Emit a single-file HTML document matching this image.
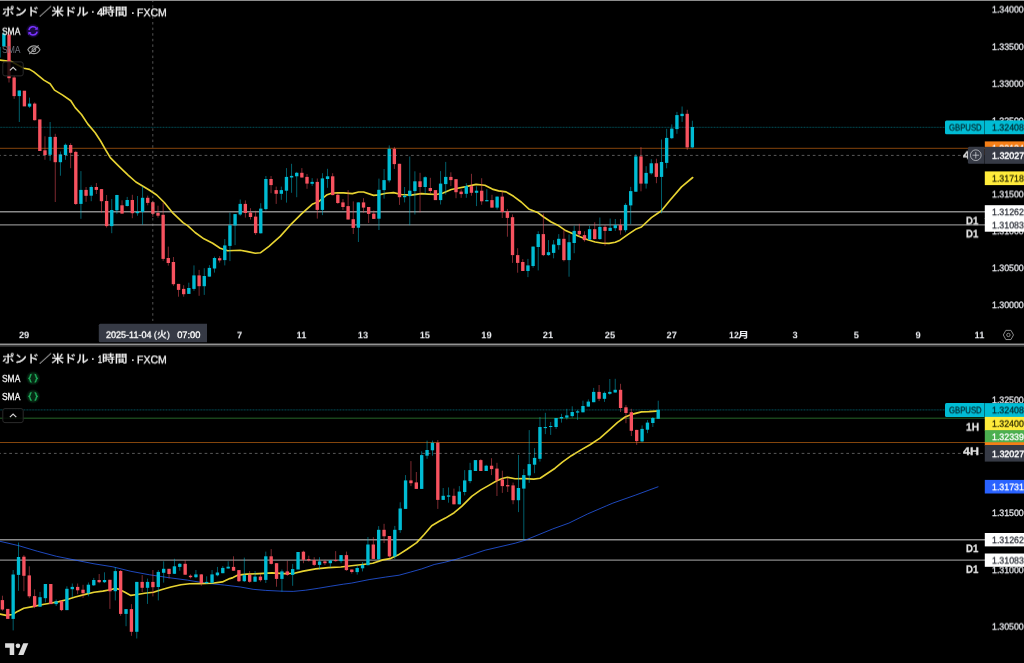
<!DOCTYPE html>
<html lang="ja"><head><meta charset="utf-8"><title>GBPUSD chart</title>
<style>
html,body{margin:0;padding:0;background:#000;}
body{width:1024px;height:663px;overflow:hidden;position:relative;font-family:"Liberation Sans","Noto Sans CJK JP",sans-serif;}
.g{position:absolute;left:0;top:0;}
.w{position:absolute;left:0;top:0;}
.t{position:absolute;white-space:pre;transform-origin:0 50%;display:block;text-rendering:geometricPrecision;}
.b{position:absolute;}
.ic{position:absolute;}
.btn{position:absolute;width:21.4px;height:15px;box-sizing:border-box;border:1px solid #2e2e2e;border-radius:2.5px;background:rgba(0,0,0,0.82);}
.btn svg{position:absolute;left:-1px;top:-1px;}
</style></head>
<body>
<svg width="0" height="0" style="position:absolute"><defs><filter id="d1" x="-5%" y="-20%" width="110%" height="140%" color-interpolation-filters="sRGB"><feOffset dy="1" result="o"/><feComposite in="SourceGraphic" in2="o" operator="arithmetic" k1="0" k2="0.9" k3="0.1" k4="0"/></filter><filter id="d2" x="-5%" y="-20%" width="110%" height="140%" color-interpolation-filters="sRGB"><feOffset dy="1" result="o"/><feComposite in="SourceGraphic" in2="o" operator="arithmetic" k1="0" k2="0.8" k3="0.2" k4="0"/></filter><filter id="d3" x="-5%" y="-20%" width="110%" height="140%" color-interpolation-filters="sRGB"><feOffset dy="1" result="o"/><feComposite in="SourceGraphic" in2="o" operator="arithmetic" k1="0" k2="0.7" k3="0.3" k4="0"/></filter><filter id="d4" x="-5%" y="-20%" width="110%" height="140%" color-interpolation-filters="sRGB"><feOffset dy="1" result="o"/><feComposite in="SourceGraphic" in2="o" operator="arithmetic" k1="0" k2="0.6" k3="0.4" k4="0"/></filter><filter id="u1" x="-5%" y="-20%" width="110%" height="140%" color-interpolation-filters="sRGB"><feOffset dy="-1" result="o"/><feComposite in="SourceGraphic" in2="o" operator="arithmetic" k1="0" k2="0.9" k3="0.1" k4="0"/></filter><filter id="u2" x="-5%" y="-20%" width="110%" height="140%" color-interpolation-filters="sRGB"><feOffset dy="-1" result="o"/><feComposite in="SourceGraphic" in2="o" operator="arithmetic" k1="0" k2="0.8" k3="0.2" k4="0"/></filter><filter id="u3" x="-5%" y="-20%" width="110%" height="140%" color-interpolation-filters="sRGB"><feOffset dy="-1" result="o"/><feComposite in="SourceGraphic" in2="o" operator="arithmetic" k1="0" k2="0.7" k3="0.3" k4="0"/></filter><filter id="u4" x="-5%" y="-20%" width="110%" height="140%" color-interpolation-filters="sRGB"><feOffset dy="-1" result="o"/><feComposite in="SourceGraphic" in2="o" operator="arithmetic" k1="0" k2="0.6" k3="0.4" k4="0"/></filter><filter id="u5" x="-5%" y="-20%" width="110%" height="140%" color-interpolation-filters="sRGB"><feOffset dy="-1" result="o"/><feComposite in="SourceGraphic" in2="o" operator="arithmetic" k1="0" k2="0.5" k3="0.5" k4="0"/></filter></defs></svg>
<svg class="g" width="1024" height="663" viewBox="0 0 1024 663"><g><line x1="0" y1="127.3" x2="945" y2="127.3" stroke="#00bcd4" stroke-width="0.9" opacity="0.2"/><line x1="0.6" y1="127.3" x2="945" y2="127.3" stroke="#00bcd4" stroke-width="0.9" stroke-dasharray="1.1 1.8" stroke-dashoffset="0" opacity="0.3"/><line x1="0" y1="148.3" x2="985" y2="148.3" stroke="#f57f17" stroke-width="0.95" opacity="0.57"/><line x1="0" y1="211.7" x2="985" y2="211.7" stroke="#8a8a8a" stroke-width="1.4" opacity="1"/><line x1="0" y1="224.9" x2="985" y2="224.9" stroke="#8a8a8a" stroke-width="1.4" opacity="1"/><polyline points="0.0,60.1 11.3,61.5 23.8,68.2 29.6,69.4 33.8,71.9 43.9,80.1 50.1,83.8 54.5,90.1 62.7,95.1 70.8,100.7 75.2,107.6 81.5,114.5 87.7,123.9 95.2,132.7 100.6,141.0 106.5,151.3 110.3,157.6 119.0,166.3 128.1,175.1 135.9,182.0 149.2,190.0 156.7,195.0 164.3,202.5 173.0,213.2 183.0,222.6 187.6,225.6 195.1,232.5 203.9,238.8 212.7,243.2 220.2,248.2 227.7,250.7 240.2,250.3 247.7,251.6 255.3,253.2 260.3,252.8 269.0,246.3 272.6,243.1 280.2,236.4 290.2,225.2 301.5,213.9 312.7,203.9 319.0,201.4 326.5,195.1 331.5,193.2 337.8,192.8 343.5,192.9 352.3,193.6 358.6,192.0 363.6,192.0 373.6,195.4 378.6,194.9 386.1,193.2 393.6,192.6 401.2,194.5 411.2,195.1 421.2,193.6 428.7,194.1 436.3,194.5 442.5,193.2 451.3,189.5 457.6,188.2 466.0,186.6 476.0,184.4 484.8,185.3 492.3,189.1 498.6,190.9 506.1,191.9 513.6,196.3 521.2,202.0 528.7,208.9 537.5,212.4 543.7,217.0 551.2,222.0 558.8,225.8 565.0,230.2 571.3,233.0 578.8,236.2 587.7,239.8 595.2,242.0 602.8,243.2 609.0,243.4 615.3,242.2 620.0,240.2 628.8,233.9 636.3,228.9 641.4,227.0 651.4,217.6 661.4,210.8 670.2,200.1 681.5,186.9 692.7,177.5" fill="none" stroke="#f5e035" stroke-width="1.65" stroke-linejoin="round" stroke-linecap="round" opacity="0.94"/><rect x="-1.73" y="45.0" width="0.9" height="13.0" fill="#00bcd4" opacity="0.56"/>
<rect x="-2.95" y="47.0" width="3.35" height="10.6" fill="#00bcd4"/>
<rect x="3.41" y="30.0" width="0.9" height="17.0" fill="#00bcd4" opacity="0.56"/>
<rect x="2.19" y="33.8" width="3.35" height="12.6" fill="#00bcd4"/>
<rect x="8.55" y="33.0" width="0.9" height="49.5" fill="#f7525f" opacity="0.56"/>
<rect x="7.33" y="34.5" width="3.35" height="43.7" fill="#f7525f"/>
<rect x="13.69" y="75.0" width="0.9" height="23.8" fill="#f7525f" opacity="0.56"/>
<rect x="12.46" y="77.5" width="3.35" height="18.6" fill="#f7525f"/>
<rect x="18.83" y="90.5" width="0.9" height="31.5" fill="#00bcd4" opacity="0.56"/>
<rect x="17.60" y="90.5" width="3.35" height="5.6" fill="#00bcd4"/>
<rect x="22.74" y="90.7" width="3.35" height="15.7" fill="#f7525f"/>
<rect x="29.10" y="97.6" width="0.9" height="10.3" fill="#00bcd4" opacity="0.56"/>
<rect x="27.88" y="103.6" width="3.35" height="3.0" fill="#00bcd4"/>
<rect x="34.24" y="102.4" width="0.9" height="18.1" fill="#f7525f" opacity="0.56"/>
<rect x="33.02" y="103.6" width="3.35" height="16.6" fill="#f7525f"/>
<rect x="38.15" y="119.4" width="3.35" height="31.6" fill="#f7525f"/>
<rect x="44.52" y="136.3" width="0.9" height="23.5" fill="#f7525f" opacity="0.56"/>
<rect x="43.29" y="150.3" width="3.35" height="4.7" fill="#f7525f"/>
<rect x="49.65" y="122.0" width="0.9" height="38.7" fill="#00bcd4" opacity="0.56"/>
<rect x="48.43" y="136.9" width="3.35" height="17.9" fill="#00bcd4"/>
<rect x="54.79" y="133.8" width="0.9" height="68.2" fill="#f7525f" opacity="0.56"/>
<rect x="53.57" y="136.9" width="3.35" height="25.3" fill="#f7525f"/>
<rect x="59.93" y="151.5" width="0.9" height="24.2" fill="#00bcd4" opacity="0.56"/>
<rect x="58.70" y="154.4" width="3.35" height="7.8" fill="#00bcd4"/>
<rect x="65.07" y="143.5" width="0.9" height="16.3" fill="#00bcd4" opacity="0.56"/>
<rect x="63.84" y="144.8" width="3.35" height="10.2" fill="#00bcd4"/>
<rect x="70.21" y="143.2" width="0.9" height="25.0" fill="#f7525f" opacity="0.56"/>
<rect x="68.98" y="145.0" width="3.35" height="7.8" fill="#f7525f"/>
<rect x="75.34" y="150.7" width="0.9" height="54.3" fill="#f7525f" opacity="0.56"/>
<rect x="74.12" y="151.9" width="3.35" height="52.1" fill="#f7525f"/>
<rect x="80.48" y="171.1" width="0.9" height="47.7" fill="#00bcd4" opacity="0.56"/>
<rect x="79.26" y="189.9" width="3.35" height="14.0" fill="#00bcd4"/>
<rect x="85.62" y="187.0" width="0.9" height="14.8" fill="#f7525f" opacity="0.56"/>
<rect x="84.39" y="189.9" width="3.35" height="5.9" fill="#f7525f"/>
<rect x="90.76" y="185.4" width="0.9" height="15.8" fill="#00bcd4" opacity="0.56"/>
<rect x="89.53" y="187.0" width="3.35" height="8.7" fill="#00bcd4"/>
<rect x="95.90" y="183.0" width="0.9" height="11.0" fill="#f7525f" opacity="0.56"/>
<rect x="94.67" y="187.0" width="3.35" height="2.9" fill="#f7525f"/>
<rect x="101.03" y="189.0" width="0.9" height="23.6" fill="#f7525f" opacity="0.56"/>
<rect x="99.81" y="189.1" width="3.35" height="12.1" fill="#f7525f"/>
<rect x="106.17" y="195.0" width="0.9" height="32.6" fill="#f7525f" opacity="0.56"/>
<rect x="104.95" y="201.0" width="3.35" height="25.1" fill="#f7525f"/>
<rect x="111.31" y="199.0" width="0.9" height="34.2" fill="#00bcd4" opacity="0.56"/>
<rect x="110.08" y="210.0" width="3.35" height="16.1" fill="#00bcd4"/>
<rect x="116.45" y="194.8" width="0.9" height="19.0" fill="#00bcd4" opacity="0.56"/>
<rect x="115.22" y="195.0" width="3.35" height="15.3" fill="#00bcd4"/>
<rect x="121.59" y="200.3" width="0.9" height="13.3" fill="#f7525f" opacity="0.56"/>
<rect x="120.36" y="205.3" width="3.35" height="8.3" fill="#f7525f"/>
<rect x="126.72" y="196.9" width="0.9" height="9.6" fill="#00bcd4" opacity="0.56"/>
<rect x="125.50" y="200.0" width="3.35" height="6.0" fill="#00bcd4"/>
<rect x="131.86" y="194.8" width="0.9" height="23.4" fill="#f7525f" opacity="0.56"/>
<rect x="130.64" y="200.0" width="3.35" height="13.2" fill="#f7525f"/>
<rect x="137.00" y="196.0" width="0.9" height="19.7" fill="#00bcd4" opacity="0.56"/>
<rect x="135.77" y="211.6" width="3.35" height="1.6" fill="#00bcd4"/>
<rect x="142.14" y="186.4" width="0.9" height="38.4" fill="#00bcd4" opacity="0.56"/>
<rect x="140.91" y="197.8" width="3.35" height="14.1" fill="#00bcd4"/>
<rect x="147.28" y="195.6" width="0.9" height="9.7" fill="#f7525f" opacity="0.56"/>
<rect x="146.05" y="197.8" width="3.35" height="5.1" fill="#f7525f"/>
<rect x="152.41" y="200.7" width="0.9" height="16.3" fill="#f7525f" opacity="0.56"/>
<rect x="151.19" y="202.2" width="3.35" height="11.6" fill="#f7525f"/>
<rect x="157.55" y="205.7" width="0.9" height="11.9" fill="#f7525f" opacity="0.56"/>
<rect x="156.33" y="212.9" width="3.35" height="2.8" fill="#f7525f"/>
<rect x="162.69" y="202.5" width="0.9" height="58.3" fill="#f7525f" opacity="0.56"/>
<rect x="161.46" y="214.8" width="3.35" height="44.1" fill="#f7525f"/>
<rect x="167.83" y="246.6" width="0.9" height="19.0" fill="#f7525f" opacity="0.56"/>
<rect x="166.60" y="258.0" width="3.35" height="5.0" fill="#f7525f"/>
<rect x="172.97" y="257.0" width="0.9" height="28.8" fill="#f7525f" opacity="0.56"/>
<rect x="171.74" y="262.0" width="3.35" height="22.2" fill="#f7525f"/>
<rect x="178.10" y="283.9" width="0.9" height="12.8" fill="#f7525f" opacity="0.56"/>
<rect x="176.88" y="283.9" width="3.35" height="6.0" fill="#f7525f"/>
<rect x="183.24" y="285.2" width="0.9" height="11.5" fill="#f7525f" opacity="0.56"/>
<rect x="182.02" y="288.9" width="3.35" height="5.3" fill="#f7525f"/>
<rect x="188.38" y="282.7" width="0.9" height="11.3" fill="#00bcd4" opacity="0.56"/>
<rect x="187.15" y="288.0" width="3.35" height="5.9" fill="#00bcd4"/>
<rect x="193.52" y="265.4" width="0.9" height="25.4" fill="#00bcd4" opacity="0.56"/>
<rect x="192.29" y="275.4" width="3.35" height="13.5" fill="#00bcd4"/>
<rect x="198.66" y="269.9" width="0.9" height="25.9" fill="#f7525f" opacity="0.56"/>
<rect x="197.43" y="275.4" width="3.35" height="10.8" fill="#f7525f"/>
<rect x="203.79" y="268.2" width="0.9" height="26.7" fill="#00bcd4" opacity="0.56"/>
<rect x="202.57" y="276.0" width="3.35" height="10.2" fill="#00bcd4"/>
<rect x="208.93" y="265.1" width="0.9" height="11.5" fill="#00bcd4" opacity="0.56"/>
<rect x="207.71" y="267.9" width="3.35" height="8.7" fill="#00bcd4"/>
<rect x="214.07" y="256.6" width="0.9" height="16.0" fill="#00bcd4" opacity="0.56"/>
<rect x="212.84" y="258.0" width="3.35" height="10.5" fill="#00bcd4"/>
<rect x="219.21" y="256.1" width="0.9" height="6.5" fill="#f7525f" opacity="0.56"/>
<rect x="217.98" y="258.2" width="3.35" height="2.2" fill="#f7525f"/>
<rect x="224.35" y="239.0" width="0.9" height="26.4" fill="#00bcd4" opacity="0.56"/>
<rect x="223.12" y="245.4" width="3.35" height="14.7" fill="#00bcd4"/>
<rect x="229.48" y="212.6" width="0.9" height="48.5" fill="#00bcd4" opacity="0.56"/>
<rect x="228.26" y="225.2" width="3.35" height="20.7" fill="#00bcd4"/>
<rect x="234.62" y="214.0" width="0.9" height="31.1" fill="#00bcd4" opacity="0.56"/>
<rect x="233.40" y="214.1" width="3.35" height="11.3" fill="#00bcd4"/>
<rect x="239.76" y="199.5" width="0.9" height="16.3" fill="#00bcd4" opacity="0.56"/>
<rect x="238.53" y="203.9" width="3.35" height="10.6" fill="#00bcd4"/>
<rect x="244.90" y="200.4" width="0.9" height="17.2" fill="#f7525f" opacity="0.56"/>
<rect x="243.67" y="203.9" width="3.35" height="9.1" fill="#f7525f"/>
<rect x="250.04" y="208.2" width="0.9" height="11.3" fill="#f7525f" opacity="0.56"/>
<rect x="248.81" y="212.6" width="3.35" height="4.4" fill="#f7525f"/>
<rect x="255.17" y="210.8" width="0.9" height="24.1" fill="#f7525f" opacity="0.56"/>
<rect x="253.95" y="216.6" width="3.35" height="16.5" fill="#f7525f"/>
<rect x="260.31" y="203.2" width="0.9" height="30.3" fill="#00bcd4" opacity="0.56"/>
<rect x="259.09" y="208.6" width="3.35" height="24.7" fill="#00bcd4"/>
<rect x="265.45" y="176.0" width="0.9" height="34.4" fill="#00bcd4" opacity="0.56"/>
<rect x="264.22" y="179.0" width="3.35" height="30.1" fill="#00bcd4"/>
<rect x="270.59" y="176.0" width="0.9" height="17.2" fill="#f7525f" opacity="0.56"/>
<rect x="269.36" y="179.0" width="3.35" height="6.1" fill="#f7525f"/>
<rect x="275.73" y="186.6" width="0.9" height="17.3" fill="#f7525f" opacity="0.56"/>
<rect x="274.50" y="190.1" width="3.35" height="3.7" fill="#f7525f"/>
<rect x="280.86" y="186.6" width="0.9" height="13.2" fill="#00bcd4" opacity="0.56"/>
<rect x="279.64" y="190.1" width="3.35" height="3.7" fill="#00bcd4"/>
<rect x="286.00" y="168.1" width="0.9" height="34.5" fill="#00bcd4" opacity="0.56"/>
<rect x="284.78" y="176.9" width="3.35" height="13.8" fill="#00bcd4"/>
<rect x="291.14" y="163.8" width="0.9" height="29.0" fill="#00bcd4" opacity="0.56"/>
<rect x="289.91" y="175.9" width="3.35" height="1.6" fill="#00bcd4"/>
<rect x="296.28" y="171.9" width="0.9" height="25.3" fill="#00bcd4" opacity="0.56"/>
<rect x="295.05" y="172.8" width="3.35" height="3.5" fill="#00bcd4"/>
<rect x="301.42" y="168.1" width="0.9" height="9.4" fill="#f7525f" opacity="0.56"/>
<rect x="300.19" y="172.8" width="3.35" height="4.7" fill="#f7525f"/>
<rect x="306.55" y="174.0" width="0.9" height="14.8" fill="#f7525f" opacity="0.56"/>
<rect x="305.33" y="176.9" width="3.35" height="6.7" fill="#f7525f"/>
<rect x="311.69" y="178.2" width="0.9" height="7.7" fill="#00bcd4" opacity="0.56"/>
<rect x="310.47" y="181.9" width="3.35" height="1.9" fill="#00bcd4"/>
<rect x="316.83" y="178.5" width="0.9" height="40.1" fill="#f7525f" opacity="0.56"/>
<rect x="315.60" y="181.9" width="3.35" height="28.0" fill="#f7525f"/>
<rect x="321.97" y="173.2" width="0.9" height="41.9" fill="#00bcd4" opacity="0.56"/>
<rect x="320.74" y="178.4" width="3.35" height="31.5" fill="#00bcd4"/>
<rect x="327.11" y="168.8" width="0.9" height="19.0" fill="#00bcd4" opacity="0.56"/>
<rect x="325.88" y="176.3" width="3.35" height="2.7" fill="#00bcd4"/>
<rect x="332.24" y="173.2" width="0.9" height="22.1" fill="#f7525f" opacity="0.56"/>
<rect x="331.02" y="176.3" width="3.35" height="18.8" fill="#f7525f"/>
<rect x="337.38" y="192.8" width="0.9" height="11.1" fill="#f7525f" opacity="0.56"/>
<rect x="336.16" y="194.8" width="3.35" height="8.2" fill="#f7525f"/>
<rect x="342.52" y="199.1" width="0.9" height="10.8" fill="#f7525f" opacity="0.56"/>
<rect x="341.29" y="202.4" width="3.35" height="4.6" fill="#f7525f"/>
<rect x="347.66" y="190.1" width="0.9" height="29.5" fill="#f7525f" opacity="0.56"/>
<rect x="346.43" y="206.1" width="3.35" height="13.4" fill="#f7525f"/>
<rect x="352.80" y="201.4" width="0.9" height="32.6" fill="#f7525f" opacity="0.56"/>
<rect x="351.57" y="219.2" width="3.35" height="8.7" fill="#f7525f"/>
<rect x="357.93" y="202.3" width="0.9" height="39.7" fill="#00bcd4" opacity="0.56"/>
<rect x="356.71" y="202.4" width="3.35" height="25.3" fill="#00bcd4"/>
<rect x="363.07" y="198.2" width="0.9" height="14.5" fill="#f7525f" opacity="0.56"/>
<rect x="361.85" y="202.4" width="3.35" height="5.2" fill="#f7525f"/>
<rect x="368.21" y="207.0" width="0.9" height="15.9" fill="#f7525f" opacity="0.56"/>
<rect x="366.98" y="207.0" width="3.35" height="6.9" fill="#f7525f"/>
<rect x="373.35" y="210.4" width="0.9" height="8.6" fill="#f7525f" opacity="0.56"/>
<rect x="372.12" y="213.7" width="3.35" height="5.2" fill="#f7525f"/>
<rect x="378.49" y="178.6" width="0.9" height="51.4" fill="#00bcd4" opacity="0.56"/>
<rect x="377.26" y="189.8" width="3.35" height="28.9" fill="#00bcd4"/>
<rect x="383.62" y="169.0" width="0.9" height="29.6" fill="#00bcd4" opacity="0.56"/>
<rect x="382.40" y="180.1" width="3.35" height="10.0" fill="#00bcd4"/>
<rect x="388.76" y="145.4" width="0.9" height="37.0" fill="#00bcd4" opacity="0.56"/>
<rect x="387.54" y="148.8" width="3.35" height="31.6" fill="#00bcd4"/>
<rect x="393.90" y="146.9" width="0.9" height="22.0" fill="#f7525f" opacity="0.56"/>
<rect x="392.67" y="148.8" width="3.35" height="15.3" fill="#f7525f"/>
<rect x="399.04" y="163.8" width="0.9" height="41.1" fill="#f7525f" opacity="0.56"/>
<rect x="397.81" y="163.8" width="3.35" height="33.4" fill="#f7525f"/>
<rect x="404.18" y="187.0" width="0.9" height="15.4" fill="#00bcd4" opacity="0.56"/>
<rect x="402.95" y="195.7" width="3.35" height="1.5" fill="#00bcd4"/>
<rect x="409.31" y="156.5" width="0.9" height="68.7" fill="#00bcd4" opacity="0.56"/>
<rect x="408.09" y="190.7" width="3.35" height="5.4" fill="#00bcd4"/>
<rect x="414.45" y="171.3" width="0.9" height="43.2" fill="#00bcd4" opacity="0.56"/>
<rect x="413.23" y="181.3" width="3.35" height="9.8" fill="#00bcd4"/>
<rect x="419.59" y="172.8" width="0.9" height="39.5" fill="#f7525f" opacity="0.56"/>
<rect x="418.36" y="181.3" width="3.35" height="5.7" fill="#f7525f"/>
<rect x="424.73" y="176.3" width="0.9" height="17.6" fill="#00bcd4" opacity="0.56"/>
<rect x="423.50" y="177.2" width="3.35" height="9.8" fill="#00bcd4"/>
<rect x="429.87" y="177.8" width="0.9" height="15.4" fill="#f7525f" opacity="0.56"/>
<rect x="428.64" y="188.0" width="3.35" height="3.0" fill="#f7525f"/>
<rect x="433.78" y="190.1" width="3.35" height="10.0" fill="#f7525f"/>
<rect x="440.14" y="171.1" width="0.9" height="33.4" fill="#00bcd4" opacity="0.56"/>
<rect x="438.92" y="183.6" width="3.35" height="16.5" fill="#00bcd4"/>
<rect x="445.28" y="161.9" width="0.9" height="32.6" fill="#00bcd4" opacity="0.56"/>
<rect x="444.06" y="176.9" width="3.35" height="7.2" fill="#00bcd4"/>
<rect x="450.42" y="172.3" width="0.9" height="13.8" fill="#f7525f" opacity="0.56"/>
<rect x="449.19" y="176.9" width="3.35" height="3.2" fill="#f7525f"/>
<rect x="455.56" y="179.0" width="0.9" height="19.2" fill="#f7525f" opacity="0.56"/>
<rect x="454.33" y="179.2" width="3.35" height="13.0" fill="#f7525f"/>
<rect x="460.69" y="189.4" width="0.9" height="8.4" fill="#f7525f" opacity="0.56"/>
<rect x="459.47" y="191.6" width="3.35" height="2.5" fill="#f7525f"/>
<rect x="465.83" y="183.2" width="0.9" height="14.6" fill="#00bcd4" opacity="0.56"/>
<rect x="464.61" y="186.1" width="3.35" height="7.7" fill="#00bcd4"/>
<rect x="470.97" y="173.8" width="0.9" height="21.9" fill="#f7525f" opacity="0.56"/>
<rect x="469.75" y="186.1" width="3.35" height="6.7" fill="#f7525f"/>
<rect x="476.11" y="186.3" width="0.9" height="19.8" fill="#00bcd4" opacity="0.56"/>
<rect x="474.88" y="190.7" width="3.35" height="2.1" fill="#00bcd4"/>
<rect x="481.25" y="178.2" width="0.9" height="26.6" fill="#f7525f" opacity="0.56"/>
<rect x="480.02" y="190.7" width="3.35" height="10.6" fill="#f7525f"/>
<rect x="486.38" y="189.1" width="0.9" height="12.2" fill="#00bcd4" opacity="0.56"/>
<rect x="485.16" y="200.1" width="3.35" height="1.2" fill="#00bcd4"/>
<rect x="491.52" y="194.8" width="0.9" height="13.0" fill="#f7525f" opacity="0.56"/>
<rect x="490.30" y="200.1" width="3.35" height="7.5" fill="#f7525f"/>
<rect x="496.66" y="196.5" width="0.9" height="13.0" fill="#00bcd4" opacity="0.56"/>
<rect x="495.44" y="196.6" width="3.35" height="11.0" fill="#00bcd4"/>
<rect x="501.80" y="190.7" width="0.9" height="27.3" fill="#f7525f" opacity="0.56"/>
<rect x="500.57" y="196.6" width="3.35" height="15.4" fill="#f7525f"/>
<rect x="506.94" y="208.9" width="0.9" height="27.8" fill="#f7525f" opacity="0.56"/>
<rect x="505.71" y="211.6" width="3.35" height="6.3" fill="#f7525f"/>
<rect x="512.07" y="214.4" width="0.9" height="48.5" fill="#f7525f" opacity="0.56"/>
<rect x="510.85" y="217.2" width="3.35" height="37.9" fill="#f7525f"/>
<rect x="517.21" y="248.2" width="0.9" height="24.5" fill="#f7525f" opacity="0.56"/>
<rect x="515.99" y="255.1" width="3.35" height="7.8" fill="#f7525f"/>
<rect x="522.35" y="259.1" width="0.9" height="11.9" fill="#f7525f" opacity="0.56"/>
<rect x="521.12" y="262.0" width="3.35" height="9.0" fill="#f7525f"/>
<rect x="527.49" y="258.9" width="0.9" height="18.2" fill="#00bcd4" opacity="0.56"/>
<rect x="526.26" y="265.4" width="3.35" height="5.6" fill="#00bcd4"/>
<rect x="532.63" y="246.5" width="0.9" height="21.2" fill="#00bcd4" opacity="0.56"/>
<rect x="531.40" y="246.6" width="3.35" height="19.4" fill="#00bcd4"/>
<rect x="537.76" y="231.3" width="0.9" height="39.1" fill="#00bcd4" opacity="0.56"/>
<rect x="536.54" y="234.1" width="3.35" height="12.9" fill="#00bcd4"/>
<rect x="542.90" y="213.5" width="0.9" height="42.6" fill="#f7525f" opacity="0.56"/>
<rect x="541.68" y="234.1" width="3.35" height="21.0" fill="#f7525f"/>
<rect x="548.04" y="240.1" width="0.9" height="15.7" fill="#00bcd4" opacity="0.56"/>
<rect x="546.82" y="252.2" width="3.35" height="2.9" fill="#00bcd4"/>
<rect x="553.18" y="240.1" width="0.9" height="18.2" fill="#00bcd4" opacity="0.56"/>
<rect x="551.95" y="244.5" width="3.35" height="8.4" fill="#00bcd4"/>
<rect x="558.32" y="234.1" width="0.9" height="15.6" fill="#00bcd4" opacity="0.56"/>
<rect x="557.09" y="238.8" width="3.35" height="6.3" fill="#00bcd4"/>
<rect x="563.45" y="229.4" width="0.9" height="32.0" fill="#f7525f" opacity="0.56"/>
<rect x="562.23" y="238.8" width="3.35" height="21.3" fill="#f7525f"/>
<rect x="568.59" y="234.4" width="0.9" height="42.3" fill="#00bcd4" opacity="0.56"/>
<rect x="567.37" y="242.2" width="3.35" height="17.9" fill="#00bcd4"/>
<rect x="573.73" y="225.7" width="0.9" height="27.5" fill="#00bcd4" opacity="0.56"/>
<rect x="572.50" y="230.9" width="3.35" height="12.1" fill="#00bcd4"/>
<rect x="578.87" y="223.8" width="0.9" height="13.2" fill="#f7525f" opacity="0.56"/>
<rect x="577.64" y="230.9" width="3.35" height="3.5" fill="#f7525f"/>
<rect x="584.01" y="231.3" width="0.9" height="10.3" fill="#f7525f" opacity="0.56"/>
<rect x="582.78" y="235.1" width="3.35" height="5.0" fill="#f7525f"/>
<rect x="589.14" y="225.7" width="0.9" height="14.3" fill="#00bcd4" opacity="0.56"/>
<rect x="587.92" y="229.2" width="3.35" height="10.5" fill="#00bcd4"/>
<rect x="594.28" y="222.2" width="0.9" height="17.1" fill="#f7525f" opacity="0.56"/>
<rect x="593.06" y="229.2" width="3.35" height="9.9" fill="#f7525f"/>
<rect x="599.42" y="217.5" width="0.9" height="22.3" fill="#00bcd4" opacity="0.56"/>
<rect x="598.20" y="226.9" width="3.35" height="12.2" fill="#00bcd4"/>
<rect x="604.56" y="225.1" width="0.9" height="20.6" fill="#f7525f" opacity="0.56"/>
<rect x="603.33" y="226.9" width="3.35" height="4.0" fill="#f7525f"/>
<rect x="609.70" y="218.5" width="0.9" height="12.5" fill="#00bcd4" opacity="0.56"/>
<rect x="608.47" y="227.8" width="3.35" height="3.1" fill="#00bcd4"/>
<rect x="614.83" y="219.0" width="0.9" height="11.9" fill="#00bcd4" opacity="0.56"/>
<rect x="613.61" y="225.1" width="3.35" height="3.1" fill="#00bcd4"/>
<rect x="619.97" y="219.0" width="0.9" height="15.7" fill="#f7525f" opacity="0.56"/>
<rect x="618.75" y="225.1" width="3.35" height="5.2" fill="#f7525f"/>
<rect x="625.11" y="203.2" width="0.9" height="29.1" fill="#00bcd4" opacity="0.56"/>
<rect x="623.88" y="204.9" width="3.35" height="25.3" fill="#00bcd4"/>
<rect x="630.25" y="186.9" width="0.9" height="37.3" fill="#00bcd4" opacity="0.56"/>
<rect x="629.02" y="191.1" width="3.35" height="14.3" fill="#00bcd4"/>
<rect x="635.39" y="154.1" width="0.9" height="37.7" fill="#00bcd4" opacity="0.56"/>
<rect x="634.16" y="156.4" width="3.35" height="35.3" fill="#00bcd4"/>
<rect x="640.52" y="147.0" width="0.9" height="44.3" fill="#f7525f" opacity="0.56"/>
<rect x="639.30" y="156.4" width="3.35" height="27.2" fill="#f7525f"/>
<rect x="645.66" y="166.2" width="0.9" height="22.4" fill="#00bcd4" opacity="0.56"/>
<rect x="644.44" y="172.9" width="3.35" height="10.7" fill="#00bcd4"/>
<rect x="650.80" y="159.2" width="0.9" height="15.4" fill="#00bcd4" opacity="0.56"/>
<rect x="649.58" y="163.3" width="3.35" height="10.0" fill="#00bcd4"/>
<rect x="655.94" y="158.7" width="0.9" height="24.5" fill="#f7525f" opacity="0.56"/>
<rect x="654.71" y="163.3" width="3.35" height="13.6" fill="#f7525f"/>
<rect x="661.08" y="139.5" width="0.9" height="73.8" fill="#00bcd4" opacity="0.56"/>
<rect x="659.85" y="162.0" width="3.35" height="14.9" fill="#00bcd4"/>
<rect x="666.21" y="128.8" width="0.9" height="39.5" fill="#00bcd4" opacity="0.56"/>
<rect x="664.99" y="137.9" width="3.35" height="25.0" fill="#00bcd4"/>
<rect x="671.35" y="124.4" width="0.9" height="14.7" fill="#00bcd4" opacity="0.56"/>
<rect x="670.13" y="128.6" width="3.35" height="9.6" fill="#00bcd4"/>
<rect x="676.49" y="111.9" width="0.9" height="21.9" fill="#00bcd4" opacity="0.56"/>
<rect x="675.26" y="115.1" width="3.35" height="14.0" fill="#00bcd4"/>
<rect x="681.63" y="106.5" width="0.9" height="15.4" fill="#00bcd4" opacity="0.56"/>
<rect x="680.40" y="113.8" width="3.35" height="2.3" fill="#00bcd4"/>
<rect x="686.77" y="109.8" width="0.9" height="40.1" fill="#f7525f" opacity="0.56"/>
<rect x="685.54" y="113.8" width="3.35" height="33.6" fill="#f7525f"/>
<rect x="691.90" y="120.7" width="0.9" height="27.6" fill="#00bcd4" opacity="0.56"/>
<rect x="690.68" y="127.0" width="3.35" height="20.4" fill="#00bcd4"/><line x1="-1.86" y1="155.4" x2="985" y2="155.4" stroke="#a0a0a0" stroke-width="0.85" stroke-dasharray="2.7 2.88" stroke-dashoffset="0" opacity="0.66"/><line x1="152.8" y1="-0.4" x2="152.8" y2="321" stroke="#a0a0a0" stroke-width="0.85" stroke-dasharray="2.5 3.1" opacity="0.62"/></g><rect x="0" y="0" width="1024" height="1" fill="#8c8c8c"/><rect x="0" y="343" width="1024" height="1" fill="#444"/><rect x="0" y="344" width="1024" height="1" fill="#949494"/><rect x="0" y="345" width="1024" height="1" fill="#3c3c3c"/><rect x="0" y="346" width="1024" height="1" fill="#2a2a2a"/><g><line x1="0" y1="409.9" x2="945" y2="409.9" stroke="#00bcd4" stroke-width="0.9" opacity="0.2"/><line x1="0.6" y1="409.9" x2="945" y2="409.9" stroke="#00bcd4" stroke-width="0.9" stroke-dasharray="1.1 1.8" stroke-dashoffset="0" opacity="0.3"/><line x1="0" y1="418.2" x2="985" y2="418.2" stroke="#2e7d32" stroke-width="1.5" opacity="0.55"/><line x1="0" y1="442.5" x2="985" y2="442.5" stroke="#f57f17" stroke-width="0.95" opacity="0.57"/><line x1="0" y1="539.8" x2="985" y2="539.8" stroke="#8a8a8a" stroke-width="1.4" opacity="1"/><line x1="0" y1="560.1" x2="985" y2="560.1" stroke="#8a8a8a" stroke-width="1.4" opacity="1"/><polyline points="0.0,541.3 18.8,545.7 37.6,551.3 56.4,556.3 75.2,560.1 94.0,563.8 112.8,566.8 130.8,571.3 149.6,574.8 168.4,577.6 187.2,580.1 206.0,583.2 224.8,585.1 240.5,587.0 253.1,589.3 265.6,590.4 281.9,591.2 293.2,591.4 305.7,590.2 318.2,588.3 330.8,586.2 343.3,584.2 351.5,583.1 369.1,579.6 385.4,577.1 399.1,575.2 410.4,572.1 421.7,568.9 434.2,564.5 444.2,562.4 456.8,559.1 472.0,554.5 485.1,550.2 515.2,543.2 525.2,540.2 552.8,528.9 568.9,523.1 587.7,513.9 606.5,505.8 612.9,503.1 635.5,495.1 658.0,486.8" fill="none" stroke="#2962ff" stroke-width="0.95" stroke-linejoin="round" stroke-linecap="round" opacity="0.78"/><polyline points="0.0,614.1 6.3,615.4 12.5,614.5 17.5,611.4 23.8,608.2 32.6,606.6 41.4,604.8 50.1,603.2 58.9,601.6 66.4,599.8 75.2,597.0 85.2,594.4 94.0,592.3 102.8,591.1 110.3,589.8 115.5,588.4 118.3,589.1 124.5,592.0 130.8,595.4 137.1,594.5 144.6,593.2 153.4,592.3 162.1,589.5 170.9,587.0 180.9,584.8 189.7,583.8 199.7,583.6 212.3,583.2 222.3,581.9 229.8,578.6 233.0,577.6 238.0,575.1 246.8,574.1 259.3,573.6 271.9,572.9 284.4,573.6 294.4,573.3 303.2,571.1 315.7,568.9 328.3,567.6 340.8,567.0 351.5,565.8 362.8,564.5 372.8,563.3 382.8,559.9 390.4,558.6 397.9,555.1 406.7,549.5 416.7,542.6 424.2,534.5 431.7,525.7 439.2,521.3 445.4,518.1 454.2,512.7 461.7,506.4 471.7,496.4 480.5,490.1 489.3,485.1 496.8,480.7 503.0,478.2 507.5,477.3 515.0,478.8 525.1,478.6 533.8,479.1 540.1,478.2 547.6,473.2 555.1,468.2 562.7,461.9 571.4,455.7 580.2,450.4 590.0,444.8 600.0,438.1 608.8,430.4 617.6,422.4 625.1,417.0 632.6,414.1 641.4,411.9 648.9,411.6 656.4,411.1" fill="none" stroke="#f5e035" stroke-width="1.65" stroke-linejoin="round" stroke-linecap="round" opacity="0.94"/><rect x="1.95" y="595.7" width="0.9" height="15.0" fill="#f7525f" opacity="0.56"/>
<rect x="0.72" y="600.1" width="3.35" height="9.4" fill="#f7525f"/>
<rect x="6.10" y="608.9" width="3.35" height="10.0" fill="#f7525f"/>
<rect x="12.70" y="570.0" width="0.9" height="60.4" fill="#00bcd4" opacity="0.56"/>
<rect x="11.48" y="574.5" width="3.35" height="44.4" fill="#00bcd4"/>
<rect x="18.08" y="542.5" width="0.9" height="48.3" fill="#00bcd4" opacity="0.56"/>
<rect x="16.85" y="557.0" width="3.35" height="17.9" fill="#00bcd4"/>
<rect x="23.45" y="555.1" width="0.9" height="36.1" fill="#f7525f" opacity="0.56"/>
<rect x="22.23" y="556.7" width="3.35" height="19.1" fill="#f7525f"/>
<rect x="28.83" y="566.3" width="0.9" height="31.9" fill="#f7525f" opacity="0.56"/>
<rect x="27.60" y="575.4" width="3.35" height="20.9" fill="#f7525f"/>
<rect x="34.20" y="589.4" width="0.9" height="18.8" fill="#f7525f" opacity="0.56"/>
<rect x="32.98" y="596.1" width="3.35" height="10.9" fill="#f7525f"/>
<rect x="39.58" y="591.9" width="0.9" height="14.9" fill="#00bcd4" opacity="0.56"/>
<rect x="38.35" y="597.2" width="3.35" height="9.5" fill="#00bcd4"/>
<rect x="44.95" y="584.0" width="0.9" height="18.3" fill="#00bcd4" opacity="0.56"/>
<rect x="43.73" y="584.0" width="3.35" height="14.2" fill="#00bcd4"/>
<rect x="49.10" y="584.0" width="3.35" height="20.1" fill="#f7525f"/>
<rect x="55.70" y="599.5" width="0.9" height="6.5" fill="#00bcd4" opacity="0.56"/>
<rect x="54.48" y="601.3" width="3.35" height="2.8" fill="#00bcd4"/>
<rect x="61.08" y="600.1" width="0.9" height="11.0" fill="#f7525f" opacity="0.56"/>
<rect x="59.86" y="601.3" width="3.35" height="8.8" fill="#f7525f"/>
<rect x="66.46" y="586.3" width="0.9" height="23.9" fill="#00bcd4" opacity="0.56"/>
<rect x="65.23" y="588.8" width="3.35" height="21.3" fill="#00bcd4"/>
<rect x="71.83" y="583.5" width="0.9" height="13.5" fill="#00bcd4" opacity="0.56"/>
<rect x="70.61" y="586.9" width="3.35" height="2.3" fill="#00bcd4"/>
<rect x="77.21" y="583.5" width="0.9" height="10.6" fill="#f7525f" opacity="0.56"/>
<rect x="75.98" y="586.9" width="3.35" height="3.4" fill="#f7525f"/>
<rect x="82.58" y="584.8" width="0.9" height="13.0" fill="#f7525f" opacity="0.56"/>
<rect x="81.36" y="589.7" width="3.35" height="3.5" fill="#f7525f"/>
<rect x="87.96" y="582.5" width="0.9" height="13.8" fill="#00bcd4" opacity="0.56"/>
<rect x="86.73" y="584.7" width="3.35" height="8.5" fill="#00bcd4"/>
<rect x="93.33" y="577.9" width="0.9" height="8.1" fill="#00bcd4" opacity="0.56"/>
<rect x="92.11" y="580.0" width="3.35" height="5.3" fill="#00bcd4"/>
<rect x="98.71" y="574.0" width="0.9" height="9.2" fill="#f7525f" opacity="0.56"/>
<rect x="97.48" y="580.0" width="3.35" height="2.2" fill="#f7525f"/>
<rect x="104.08" y="572.3" width="0.9" height="10.7" fill="#00bcd4" opacity="0.56"/>
<rect x="102.86" y="580.0" width="3.35" height="2.2" fill="#00bcd4"/>
<rect x="109.46" y="579.8" width="0.9" height="29.1" fill="#f7525f" opacity="0.56"/>
<rect x="108.23" y="579.8" width="3.35" height="11.5" fill="#f7525f"/>
<rect x="114.84" y="567.0" width="0.9" height="33.4" fill="#00bcd4" opacity="0.56"/>
<rect x="113.61" y="571.1" width="3.35" height="20.1" fill="#00bcd4"/>
<rect x="120.21" y="570.0" width="0.9" height="45.8" fill="#f7525f" opacity="0.56"/>
<rect x="118.99" y="571.0" width="3.35" height="42.9" fill="#f7525f"/>
<rect x="125.59" y="609.0" width="0.9" height="17.2" fill="#00bcd4" opacity="0.56"/>
<rect x="124.36" y="609.1" width="3.35" height="4.8" fill="#00bcd4"/>
<rect x="130.96" y="604.1" width="0.9" height="31.7" fill="#f7525f" opacity="0.56"/>
<rect x="129.74" y="609.1" width="3.35" height="22.7" fill="#f7525f"/>
<rect x="136.34" y="581.9" width="0.9" height="56.6" fill="#00bcd4" opacity="0.56"/>
<rect x="135.11" y="581.9" width="3.35" height="49.9" fill="#00bcd4"/>
<rect x="141.71" y="575.1" width="0.9" height="16.9" fill="#f7525f" opacity="0.56"/>
<rect x="140.49" y="581.9" width="3.35" height="5.9" fill="#f7525f"/>
<rect x="147.09" y="578.6" width="0.9" height="25.3" fill="#00bcd4" opacity="0.56"/>
<rect x="145.86" y="581.9" width="3.35" height="5.9" fill="#00bcd4"/>
<rect x="152.46" y="570.0" width="0.9" height="26.4" fill="#f7525f" opacity="0.56"/>
<rect x="151.24" y="581.9" width="3.35" height="5.3" fill="#f7525f"/>
<rect x="157.84" y="570.0" width="0.9" height="30.4" fill="#00bcd4" opacity="0.56"/>
<rect x="156.61" y="571.9" width="3.35" height="15.1" fill="#00bcd4"/>
<rect x="163.22" y="561.3" width="0.9" height="21.3" fill="#00bcd4" opacity="0.56"/>
<rect x="161.99" y="568.8" width="3.35" height="4.0" fill="#00bcd4"/>
<rect x="168.59" y="568.8" width="0.9" height="9.8" fill="#f7525f" opacity="0.56"/>
<rect x="167.37" y="568.8" width="3.35" height="5.2" fill="#f7525f"/>
<rect x="173.97" y="558.8" width="0.9" height="15.2" fill="#00bcd4" opacity="0.56"/>
<rect x="172.74" y="566.3" width="3.35" height="7.5" fill="#00bcd4"/>
<rect x="179.34" y="563.1" width="0.9" height="7.6" fill="#00bcd4" opacity="0.56"/>
<rect x="178.12" y="563.8" width="3.35" height="3.1" fill="#00bcd4"/>
<rect x="184.72" y="560.0" width="0.9" height="14.8" fill="#f7525f" opacity="0.56"/>
<rect x="183.49" y="563.8" width="3.35" height="10.9" fill="#f7525f"/>
<rect x="190.09" y="574.4" width="0.9" height="4.0" fill="#f7525f" opacity="0.56"/>
<rect x="188.87" y="575.7" width="3.35" height="1.5" fill="#f7525f"/>
<rect x="195.47" y="570.0" width="0.9" height="8.2" fill="#00bcd4" opacity="0.56"/>
<rect x="194.24" y="574.4" width="3.35" height="2.8" fill="#00bcd4"/>
<rect x="200.84" y="574.0" width="0.9" height="11.7" fill="#f7525f" opacity="0.56"/>
<rect x="199.62" y="574.4" width="3.35" height="8.8" fill="#f7525f"/>
<rect x="206.22" y="576.3" width="0.9" height="7.5" fill="#00bcd4" opacity="0.56"/>
<rect x="204.99" y="581.9" width="3.35" height="1.3" fill="#00bcd4"/>
<rect x="211.59" y="570.0" width="0.9" height="13.8" fill="#00bcd4" opacity="0.56"/>
<rect x="210.37" y="574.4" width="3.35" height="8.4" fill="#00bcd4"/>
<rect x="216.97" y="566.9" width="0.9" height="9.4" fill="#00bcd4" opacity="0.56"/>
<rect x="215.74" y="572.5" width="3.35" height="2.8" fill="#00bcd4"/>
<rect x="222.35" y="566.0" width="0.9" height="7.2" fill="#00bcd4" opacity="0.56"/>
<rect x="221.12" y="567.9" width="3.35" height="5.3" fill="#00bcd4"/>
<rect x="227.72" y="561.3" width="0.9" height="7.3" fill="#00bcd4" opacity="0.56"/>
<rect x="226.50" y="566.7" width="3.35" height="1.8" fill="#00bcd4"/>
<rect x="233.10" y="556.3" width="0.9" height="14.5" fill="#f7525f" opacity="0.56"/>
<rect x="231.87" y="566.9" width="3.35" height="3.8" fill="#f7525f"/>
<rect x="238.47" y="570.0" width="0.9" height="12.0" fill="#f7525f" opacity="0.56"/>
<rect x="237.25" y="570.1" width="3.35" height="11.1" fill="#f7525f"/>
<rect x="243.85" y="557.6" width="0.9" height="24.4" fill="#00bcd4" opacity="0.56"/>
<rect x="242.62" y="575.1" width="3.35" height="6.1" fill="#00bcd4"/>
<rect x="249.22" y="571.1" width="0.9" height="11.6" fill="#f7525f" opacity="0.56"/>
<rect x="248.00" y="574.8" width="3.35" height="7.0" fill="#f7525f"/>
<rect x="254.60" y="571.1" width="0.9" height="10.7" fill="#00bcd4" opacity="0.56"/>
<rect x="253.37" y="576.6" width="3.35" height="5.1" fill="#00bcd4"/>
<rect x="259.97" y="573.9" width="0.9" height="7.8" fill="#f7525f" opacity="0.56"/>
<rect x="258.75" y="576.6" width="3.35" height="3.6" fill="#f7525f"/>
<rect x="265.35" y="551.6" width="0.9" height="31.4" fill="#00bcd4" opacity="0.56"/>
<rect x="264.12" y="556.3" width="3.35" height="23.6" fill="#00bcd4"/>
<rect x="270.72" y="549.1" width="0.9" height="15.4" fill="#f7525f" opacity="0.56"/>
<rect x="269.50" y="556.3" width="3.35" height="7.6" fill="#f7525f"/>
<rect x="276.10" y="563.0" width="0.9" height="23.7" fill="#f7525f" opacity="0.56"/>
<rect x="274.88" y="563.2" width="3.35" height="15.7" fill="#f7525f"/>
<rect x="281.48" y="569.5" width="0.9" height="22.2" fill="#00bcd4" opacity="0.56"/>
<rect x="280.25" y="571.4" width="3.35" height="7.5" fill="#00bcd4"/>
<rect x="286.85" y="560.7" width="0.9" height="15.1" fill="#f7525f" opacity="0.56"/>
<rect x="285.63" y="571.4" width="3.35" height="3.5" fill="#f7525f"/>
<rect x="292.23" y="563.9" width="0.9" height="21.9" fill="#00bcd4" opacity="0.56"/>
<rect x="291.00" y="569.1" width="3.35" height="5.8" fill="#00bcd4"/>
<rect x="296.38" y="552.0" width="3.35" height="17.5" fill="#00bcd4"/>
<rect x="302.98" y="550.7" width="0.9" height="12.5" fill="#f7525f" opacity="0.56"/>
<rect x="301.75" y="551.7" width="3.35" height="8.1" fill="#f7525f"/>
<rect x="308.35" y="555.7" width="0.9" height="5.9" fill="#f7525f" opacity="0.56"/>
<rect x="307.13" y="559.1" width="3.35" height="1.3" fill="#f7525f"/>
<rect x="313.73" y="557.2" width="0.9" height="8.9" fill="#f7525f" opacity="0.56"/>
<rect x="312.50" y="560.1" width="3.35" height="4.8" fill="#f7525f"/>
<rect x="319.10" y="557.2" width="0.9" height="12.3" fill="#00bcd4" opacity="0.56"/>
<rect x="317.88" y="561.4" width="3.35" height="3.5" fill="#00bcd4"/>
<rect x="324.48" y="559.8" width="0.9" height="5.3" fill="#f7525f" opacity="0.56"/>
<rect x="323.25" y="561.4" width="3.35" height="1.8" fill="#f7525f"/>
<rect x="329.86" y="560.0" width="0.9" height="7.4" fill="#00bcd4" opacity="0.56"/>
<rect x="328.63" y="560.4" width="3.35" height="2.8" fill="#00bcd4"/>
<rect x="335.23" y="551.1" width="0.9" height="10.5" fill="#f7525f" opacity="0.56"/>
<rect x="334.01" y="560.1" width="3.35" height="1.0" fill="#f7525f"/>
<rect x="340.61" y="555.0" width="0.9" height="8.2" fill="#00bcd4" opacity="0.56"/>
<rect x="339.38" y="555.1" width="3.35" height="6.0" fill="#00bcd4"/>
<rect x="345.98" y="551.6" width="0.9" height="19.2" fill="#f7525f" opacity="0.56"/>
<rect x="344.76" y="555.1" width="3.35" height="15.0" fill="#f7525f"/>
<rect x="351.36" y="569.5" width="0.9" height="4.1" fill="#f7525f" opacity="0.56"/>
<rect x="350.13" y="569.5" width="3.35" height="2.5" fill="#f7525f"/>
<rect x="356.73" y="565.2" width="0.9" height="9.4" fill="#00bcd4" opacity="0.56"/>
<rect x="355.51" y="568.0" width="3.35" height="4.1" fill="#00bcd4"/>
<rect x="362.11" y="562.0" width="0.9" height="9.4" fill="#00bcd4" opacity="0.56"/>
<rect x="360.88" y="564.9" width="3.35" height="3.4" fill="#00bcd4"/>
<rect x="367.48" y="537.0" width="0.9" height="28.3" fill="#00bcd4" opacity="0.56"/>
<rect x="366.26" y="544.5" width="3.35" height="20.7" fill="#00bcd4"/>
<rect x="372.86" y="537.2" width="0.9" height="21.8" fill="#f7525f" opacity="0.56"/>
<rect x="371.63" y="544.5" width="3.35" height="14.4" fill="#f7525f"/>
<rect x="378.23" y="526.1" width="0.9" height="34.3" fill="#00bcd4" opacity="0.56"/>
<rect x="377.01" y="529.8" width="3.35" height="29.5" fill="#00bcd4"/>
<rect x="383.61" y="523.8" width="0.9" height="19.2" fill="#f7525f" opacity="0.56"/>
<rect x="382.39" y="529.8" width="3.35" height="6.5" fill="#f7525f"/>
<rect x="388.99" y="536.0" width="0.9" height="21.9" fill="#f7525f" opacity="0.56"/>
<rect x="387.76" y="536.0" width="3.35" height="20.4" fill="#f7525f"/>
<rect x="394.36" y="525.9" width="0.9" height="33.0" fill="#00bcd4" opacity="0.56"/>
<rect x="393.14" y="529.8" width="3.35" height="26.6" fill="#00bcd4"/>
<rect x="399.74" y="502.3" width="0.9" height="30.5" fill="#00bcd4" opacity="0.56"/>
<rect x="398.51" y="508.5" width="3.35" height="21.6" fill="#00bcd4"/>
<rect x="405.11" y="475.1" width="0.9" height="33.9" fill="#00bcd4" opacity="0.56"/>
<rect x="403.89" y="480.4" width="3.35" height="28.5" fill="#00bcd4"/>
<rect x="410.49" y="461.1" width="0.9" height="25.0" fill="#f7525f" opacity="0.56"/>
<rect x="409.26" y="480.4" width="3.35" height="2.8" fill="#f7525f"/>
<rect x="415.86" y="472.0" width="0.9" height="17.0" fill="#f7525f" opacity="0.56"/>
<rect x="414.64" y="482.4" width="3.35" height="6.5" fill="#f7525f"/>
<rect x="421.24" y="451.3" width="0.9" height="37.7" fill="#00bcd4" opacity="0.56"/>
<rect x="420.01" y="455.1" width="3.35" height="33.8" fill="#00bcd4"/>
<rect x="426.61" y="440.6" width="0.9" height="18.2" fill="#00bcd4" opacity="0.56"/>
<rect x="425.39" y="450.0" width="3.35" height="5.7" fill="#00bcd4"/>
<rect x="431.99" y="440.6" width="0.9" height="15.1" fill="#00bcd4" opacity="0.56"/>
<rect x="430.76" y="442.8" width="3.35" height="7.5" fill="#00bcd4"/>
<rect x="437.37" y="440.0" width="0.9" height="68.9" fill="#f7525f" opacity="0.56"/>
<rect x="436.14" y="442.8" width="3.35" height="57.1" fill="#f7525f"/>
<rect x="442.74" y="488.0" width="0.9" height="12.0" fill="#00bcd4" opacity="0.56"/>
<rect x="441.52" y="495.8" width="3.35" height="4.1" fill="#00bcd4"/>
<rect x="448.12" y="487.4" width="0.9" height="15.3" fill="#00bcd4" opacity="0.56"/>
<rect x="446.89" y="495.4" width="3.35" height="1.3" fill="#00bcd4"/>
<rect x="453.49" y="488.6" width="0.9" height="15.8" fill="#f7525f" opacity="0.56"/>
<rect x="452.27" y="495.8" width="3.35" height="8.5" fill="#f7525f"/>
<rect x="458.87" y="486.1" width="0.9" height="18.3" fill="#00bcd4" opacity="0.56"/>
<rect x="457.64" y="491.6" width="3.35" height="12.7" fill="#00bcd4"/>
<rect x="464.24" y="470.1" width="0.9" height="25.3" fill="#00bcd4" opacity="0.56"/>
<rect x="463.02" y="480.4" width="3.35" height="11.6" fill="#00bcd4"/>
<rect x="469.62" y="462.8" width="0.9" height="20.4" fill="#00bcd4" opacity="0.56"/>
<rect x="468.39" y="470.1" width="3.35" height="11.0" fill="#00bcd4"/>
<rect x="473.77" y="460.1" width="3.35" height="10.9" fill="#00bcd4"/>
<rect x="480.37" y="459.1" width="0.9" height="11.9" fill="#f7525f" opacity="0.56"/>
<rect x="479.14" y="460.1" width="3.35" height="10.9" fill="#f7525f"/>
<rect x="485.74" y="464.8" width="0.9" height="6.2" fill="#00bcd4" opacity="0.56"/>
<rect x="484.52" y="465.7" width="3.35" height="5.3" fill="#00bcd4"/>
<rect x="491.12" y="458.2" width="0.9" height="16.9" fill="#f7525f" opacity="0.56"/>
<rect x="489.90" y="465.7" width="3.35" height="3.4" fill="#f7525f"/>
<rect x="496.50" y="462.8" width="0.9" height="33.2" fill="#f7525f" opacity="0.56"/>
<rect x="495.27" y="468.6" width="3.35" height="11.8" fill="#f7525f"/>
<rect x="501.87" y="470.7" width="0.9" height="22.2" fill="#f7525f" opacity="0.56"/>
<rect x="500.65" y="479.5" width="3.35" height="6.6" fill="#f7525f"/>
<rect x="507.25" y="477.6" width="0.9" height="14.4" fill="#f7525f" opacity="0.56"/>
<rect x="506.02" y="485.1" width="3.35" height="1.3" fill="#f7525f"/>
<rect x="512.62" y="482.6" width="0.9" height="21.6" fill="#f7525f" opacity="0.56"/>
<rect x="511.40" y="485.4" width="3.35" height="14.8" fill="#f7525f"/>
<rect x="518.00" y="455.0" width="0.9" height="57.1" fill="#00bcd4" opacity="0.56"/>
<rect x="516.77" y="488.0" width="3.35" height="12.2" fill="#00bcd4"/>
<rect x="523.37" y="469.1" width="0.9" height="70.9" fill="#00bcd4" opacity="0.56"/>
<rect x="522.15" y="475.1" width="3.35" height="13.5" fill="#00bcd4"/>
<rect x="528.75" y="430.1" width="0.9" height="52.8" fill="#00bcd4" opacity="0.56"/>
<rect x="527.52" y="464.1" width="3.35" height="11.4" fill="#00bcd4"/>
<rect x="534.12" y="448.1" width="0.9" height="25.1" fill="#00bcd4" opacity="0.56"/>
<rect x="532.90" y="457.9" width="3.35" height="6.8" fill="#00bcd4"/>
<rect x="539.50" y="417.0" width="0.9" height="44.6" fill="#00bcd4" opacity="0.56"/>
<rect x="538.27" y="427.0" width="3.35" height="31.8" fill="#00bcd4"/>
<rect x="544.88" y="412.8" width="0.9" height="21.3" fill="#00bcd4" opacity="0.56"/>
<rect x="543.65" y="427.0" width="3.35" height="1.1" fill="#00bcd4"/>
<rect x="550.25" y="422.0" width="0.9" height="12.9" fill="#00bcd4" opacity="0.56"/>
<rect x="549.03" y="426.0" width="3.35" height="1.0" fill="#00bcd4"/>
<rect x="555.63" y="418.0" width="0.9" height="10.9" fill="#00bcd4" opacity="0.56"/>
<rect x="554.40" y="418.0" width="3.35" height="9.0" fill="#00bcd4"/>
<rect x="561.00" y="413.8" width="0.9" height="8.8" fill="#00bcd4" opacity="0.56"/>
<rect x="559.78" y="417.0" width="3.35" height="1.5" fill="#00bcd4"/>
<rect x="566.38" y="408.8" width="0.9" height="10.7" fill="#00bcd4" opacity="0.56"/>
<rect x="565.15" y="415.4" width="3.35" height="2.2" fill="#00bcd4"/>
<rect x="571.75" y="406.3" width="0.9" height="11.3" fill="#00bcd4" opacity="0.56"/>
<rect x="570.53" y="412.0" width="3.35" height="4.1" fill="#00bcd4"/>
<rect x="577.13" y="409.8" width="0.9" height="10.1" fill="#00bcd4" opacity="0.56"/>
<rect x="575.90" y="411.3" width="3.35" height="1.3" fill="#00bcd4"/>
<rect x="582.50" y="400.7" width="0.9" height="11.7" fill="#00bcd4" opacity="0.56"/>
<rect x="581.28" y="406.0" width="3.35" height="6.3" fill="#00bcd4"/>
<rect x="587.88" y="399.4" width="0.9" height="7.2" fill="#00bcd4" opacity="0.56"/>
<rect x="586.65" y="401.6" width="3.35" height="5.0" fill="#00bcd4"/>
<rect x="593.25" y="387.9" width="0.9" height="14.3" fill="#00bcd4" opacity="0.56"/>
<rect x="592.03" y="391.9" width="3.35" height="10.3" fill="#00bcd4"/>
<rect x="598.63" y="385.0" width="0.9" height="16.1" fill="#f7525f" opacity="0.56"/>
<rect x="597.41" y="391.9" width="3.35" height="6.9" fill="#f7525f"/>
<rect x="604.01" y="391.5" width="0.9" height="10.4" fill="#00bcd4" opacity="0.56"/>
<rect x="602.78" y="392.9" width="3.35" height="5.9" fill="#00bcd4"/>
<rect x="609.38" y="379.0" width="0.9" height="15.8" fill="#00bcd4" opacity="0.56"/>
<rect x="608.16" y="391.9" width="3.35" height="1.9" fill="#00bcd4"/>
<rect x="614.76" y="378.8" width="0.9" height="13.8" fill="#00bcd4" opacity="0.56"/>
<rect x="613.53" y="389.8" width="3.35" height="2.7" fill="#00bcd4"/>
<rect x="620.13" y="383.8" width="0.9" height="28.2" fill="#f7525f" opacity="0.56"/>
<rect x="618.91" y="389.8" width="3.35" height="18.2" fill="#f7525f"/>
<rect x="625.51" y="405.1" width="0.9" height="18.1" fill="#f7525f" opacity="0.56"/>
<rect x="624.28" y="407.3" width="3.35" height="5.7" fill="#f7525f"/>
<rect x="630.88" y="408.8" width="0.9" height="27.2" fill="#f7525f" opacity="0.56"/>
<rect x="629.66" y="412.2" width="3.35" height="18.6" fill="#f7525f"/>
<rect x="636.26" y="429.8" width="0.9" height="15.1" fill="#f7525f" opacity="0.56"/>
<rect x="635.03" y="429.9" width="3.35" height="11.2" fill="#f7525f"/>
<rect x="641.63" y="425.4" width="0.9" height="17.0" fill="#00bcd4" opacity="0.56"/>
<rect x="640.41" y="428.9" width="3.35" height="12.5" fill="#00bcd4"/>
<rect x="647.01" y="420.1" width="0.9" height="13.1" fill="#00bcd4" opacity="0.56"/>
<rect x="645.78" y="422.6" width="3.35" height="7.1" fill="#00bcd4"/>
<rect x="652.39" y="417.0" width="0.9" height="10.0" fill="#00bcd4" opacity="0.56"/>
<rect x="651.16" y="418.0" width="3.35" height="5.0" fill="#00bcd4"/>
<rect x="657.76" y="400.7" width="0.9" height="18.2" fill="#00bcd4" opacity="0.56"/>
<rect x="656.54" y="409.8" width="3.35" height="9.0" fill="#00bcd4"/><line x1="-1.86" y1="453.4" x2="985" y2="453.4" stroke="#a0a0a0" stroke-width="0.85" stroke-dasharray="2.7 2.88" stroke-dashoffset="0" opacity="0.66"/></g></svg>
<span class="t" id="ta0" style="font-size:9.3px;line-height:15px;color:#dfe1e6;-webkit-text-stroke:0.28px #dfe1e6;left:991.97px;top:3px;transform:scaleX(0.9450);filter:url(#u4);">1.34000</span>
<span class="t" id="ta1" style="font-size:9.3px;line-height:15px;color:#dfe1e6;-webkit-text-stroke:0.28px #dfe1e6;left:991.97px;top:40px;transform:scaleX(0.9450);filter:url(#u1);">1.33500</span>
<span class="t" id="ta2" style="font-size:9.3px;line-height:15px;color:#dfe1e6;-webkit-text-stroke:0.28px #dfe1e6;left:991.97px;top:77px;transform:scaleX(0.9450);filter:url(#u2);">1.33000</span>
<span class="t" id="ta3" style="font-size:9.3px;line-height:15px;color:#dfe1e6;-webkit-text-stroke:0.28px #dfe1e6;left:991.97px;top:114px;transform:scaleX(0.9450);">1.32500</span>
<span class="t" id="ta4" style="font-size:9.3px;line-height:15px;color:#dfe1e6;-webkit-text-stroke:0.28px #dfe1e6;left:991.97px;top:187px;transform:scaleX(0.9450);filter:url(#d4);">1.31500</span>
<span class="t" id="ta5" style="font-size:9.3px;line-height:15px;color:#dfe1e6;-webkit-text-stroke:0.28px #dfe1e6;left:991.97px;top:224px;transform:scaleX(0.9450);filter:url(#d3);">1.31000</span>
<span class="t" id="ta6" style="font-size:9.3px;line-height:15px;color:#dfe1e6;-webkit-text-stroke:0.28px #dfe1e6;left:991.97px;top:261px;transform:scaleX(0.9450);filter:url(#d1);">1.30500</span>
<span class="t" id="ta7" style="font-size:9.3px;line-height:15px;color:#dfe1e6;-webkit-text-stroke:0.28px #dfe1e6;left:991.97px;top:298px;transform:scaleX(0.9450);filter:url(#d1);">1.30000</span>
<span class="t" id="ba0" style="font-size:9.3px;line-height:15px;color:#dfe1e6;-webkit-text-stroke:0.28px #dfe1e6;left:991.97px;top:393px;transform:scaleX(0.9450);filter:url(#d1);">1.32500</span>
<span class="t" id="ba1" style="font-size:9.3px;line-height:15px;color:#dfe1e6;-webkit-text-stroke:0.28px #dfe1e6;left:991.97px;top:506px;transform:scaleX(0.9450);">1.31500</span>
<span class="t" id="ba2" style="font-size:9.3px;line-height:15px;color:#dfe1e6;-webkit-text-stroke:0.28px #dfe1e6;left:991.97px;top:563px;transform:scaleX(0.9450);filter:url(#d2);">1.31000</span>
<span class="t" id="ba3" style="font-size:9.3px;line-height:15px;color:#dfe1e6;-webkit-text-stroke:0.28px #dfe1e6;left:991.97px;top:620px;transform:scaleX(0.9450);filter:url(#u3);">1.30500</span>
<span class="t" id="tl0" style="font-size:9.3px;line-height:15px;color:#eceef2;font-weight:700;left:18.96px;top:328px;filter:url(#d2);">29</span>
<span class="t" id="tl1" style="font-size:9.3px;line-height:15px;color:#eceef2;font-weight:700;left:237.08px;top:328px;filter:url(#d4);">7</span>
<span class="t" id="tl2" style="font-size:9.3px;line-height:15px;color:#eceef2;font-weight:700;left:296.49px;top:328px;filter:url(#d3);">11</span>
<span class="t" id="tl3" style="font-size:9.3px;line-height:15px;color:#eceef2;font-weight:700;left:357.85px;top:328px;filter:url(#d3);">13</span>
<span class="t" id="tl4" style="font-size:9.3px;line-height:15px;color:#eceef2;font-weight:700;left:419.68px;top:328px;filter:url(#d3);">15</span>
<span class="t" id="tl5" style="font-size:9.3px;line-height:15px;color:#eceef2;font-weight:700;left:481.34px;top:328px;filter:url(#d3);">19</span>
<span class="t" id="tl6" style="font-size:9.3px;line-height:15px;color:#eceef2;font-weight:700;left:542.85px;top:328px;filter:url(#d2);">21</span>
<span class="t" id="tl7" style="font-size:9.3px;line-height:15px;color:#eceef2;font-weight:700;left:604.80px;top:328px;filter:url(#d3);">25</span>
<span class="t" id="tl8" style="font-size:9.3px;line-height:15px;color:#eceef2;font-weight:700;left:666.49px;top:328px;filter:url(#d3);">27</span>
<span class="t" id="tl9" style="font-size:9.3px;line-height:15px;color:#eceef2;font-weight:700;left:792.38px;top:328px;filter:url(#d2);">3</span>
<span class="t" id="tl10" style="font-size:9.3px;line-height:15px;color:#eceef2;font-weight:700;left:853.84px;top:328px;filter:url(#d3);">5</span>
<span class="t" id="tl11" style="font-size:9.3px;line-height:15px;color:#eceef2;font-weight:700;left:915.52px;top:328px;filter:url(#d3);">9</span>
<span class="t" id="tl12" style="font-size:9.3px;line-height:15px;color:#eceef2;font-weight:700;left:974.59px;top:328px;filter:url(#d3);">11</span>
<div class="w">
<span class="t" id="tm1" style="font-size:9.3px;line-height:15px;color:#eceef2;font-weight:700;left:729.11px;top:328px;transform:scaleX(0.9488);filter:url(#d3);">12</span>
<span class="t" id="tm2" style="font-size:8.9px;line-height:14px;color:#eceef2;font-weight:700;left:738.36px;top:328px;transform:scaleX(1.2265);">月</span>
</div>
<svg class="b" style="left:945px;top:120px" width="40" height="15"><path d="M1.50 0.40H39.50V14.20H1.50Q0.00 14.20 0.00 12.70V1.90Q0.00 0.40 1.50 0.40Z" fill="#00bcd4"/></svg>
<svg class="b" style="left:984px;top:120px" width="40" height="15"><rect x="0.80" y="0.40" width="39.20" height="13.80" fill="#00bcd4"/></svg>
<svg class="b" style="left:984px;top:141px" width="40" height="14"><rect x="0.80" y="0.40" width="39.20" height="13.60" fill="#f57f17"/></svg>
<span class="t" id="gb1" style="font-size:9.3px;line-height:15px;color:#012a31;-webkit-text-stroke:0.25px #012a31;left:948.65px;top:121px;transform:scaleX(0.8329);filter:url(#u4);">GBPUSD</span>
<span class="t" id="p1" style="font-size:9.3px;line-height:15px;color:#012a31;-webkit-text-stroke:0.25px #012a31;left:991.93px;top:121px;transform:scaleX(0.9481);filter:url(#u4);">1.32408</span>
<span class="t" id="p2" style="font-size:9.3px;line-height:15px;color:#ffffff;-webkit-text-stroke:0.25px #ffffff;left:991.94px;top:142px;transform:scaleX(0.9479);filter:url(#u4);">1.32124</span>
<span class="t" id="h4a" style="font-size:10.9px;line-height:17px;color:#e4e4e4;font-weight:700;-webkit-text-stroke:0.25px #e4e4e4;left:962.98px;top:148px;transform:scaleX(1.1407);filter:url(#u3);">4H</span>
<svg class="b" style="left:967px;top:146px" width="18" height="18"><path d="M2.40 0.80H17.50V17.80H2.40Q0.90 17.80 0.90 16.30V2.30Q0.90 0.80 2.40 0.80Z" fill="#363a45"/></svg>
<svg class="b" style="left:984px;top:146px" width="40" height="18"><rect x="0.80" y="0.80" width="39.20" height="17.00" fill="#363a45"/></svg>
<svg class="ic" style="left:969px;top:149px" width="14" height="14"><g transform="translate(0.8 0.2)"><circle cx="6" cy="6" r="5.35" fill="none" stroke="#c4c6cc" stroke-width="0.8"/><path d="M6 2.7V9.3M2.7 6H9.3" stroke="#d0d2d8" stroke-width="0.75" fill="none"/></g></svg>
<svg class="b" style="left:984px;top:171px" width="40" height="15"><rect x="0.80" y="0.40" width="39.20" height="13.70" fill="#ffeb3b"/></svg>
<svg class="b" style="left:984px;top:205px" width="40" height="14"><rect x="0.80" y="0.20" width="39.20" height="13.80" fill="#ffffff"/></svg>
<svg class="b" style="left:984px;top:218px" width="40" height="14"><rect x="0.80" y="0.20" width="39.20" height="13.50" fill="#ffffff"/></svg>
<svg class="b" style="left:98px;top:323px" width="109" height="20"><path d="M2.30 0.80H109.00V19.20H2.30Q0.80 19.20 0.80 17.70V2.30Q0.80 0.80 2.30 0.80Z" fill="#363a45"/></svg>
<span class="t" id="p3" style="font-size:9.3px;line-height:15px;color:#ffffff;-webkit-text-stroke:0.42px #ffffff;left:992.09px;top:149px;transform:scaleX(0.9540);filter:url(#u2);">1.32027</span>
<span class="t" id="p4" style="font-size:9.3px;line-height:15px;color:#2b2900;-webkit-text-stroke:0.25px #2b2900;left:991.94px;top:172px;transform:scaleX(0.9480);filter:url(#u4);">1.31718</span>
<span class="t" id="p5" style="font-size:9.3px;line-height:15px;color:#2c2f38;-webkit-text-stroke:0.25px #2c2f38;left:991.93px;top:205px;transform:scaleX(0.9505);filter:url(#d2);">1.31262</span>
<span class="t" id="p6" style="font-size:9.3px;line-height:15px;color:#2c2f38;-webkit-text-stroke:0.25px #2c2f38;left:991.94px;top:218px;transform:scaleX(0.9483);filter:url(#d4);">1.31083</span>
<span class="t" id="d1a" style="font-size:10.9px;line-height:17px;color:#e4e4e4;font-weight:700;-webkit-text-stroke:0.25px #e4e4e4;left:965.59px;top:213px;transform:scaleX(0.8840);filter:url(#d4);">D1</span>
<span class="t" id="d1b" style="font-size:10.9px;line-height:17px;color:#e4e4e4;font-weight:700;-webkit-text-stroke:0.25px #e4e4e4;left:965.59px;top:226px;transform:scaleX(0.8840);filter:url(#d4);">D1</span>
<div class="w">
<span class="t" id="ct1" style="font-size:9.3px;line-height:15px;color:#ffffff;-webkit-text-stroke:0.3px #ffffff;left:105.57px;top:328px;transform:scaleX(0.9719);filter:url(#u1);">2025-11-04</span>
<span class="t" id="ct2" style="font-size:9.3px;line-height:15px;color:#ffffff;font-weight:500;-webkit-text-stroke:0.15px #ffffff;left:150.75px;top:328px;transform:scaleX(1.0516);filter:url(#u2);"> (火)</span>
<span class="t" id="ct3" style="font-size:9.3px;line-height:15px;color:#ffffff;-webkit-text-stroke:0.3px #ffffff;left:169.40px;top:328px;">   07:00</span>
</div>
<svg class="b" style="left:945px;top:403px" width="40" height="14"><path d="M1.50 0.10H39.50V13.90H1.50Q0.00 13.90 0.00 12.40V1.60Q0.00 0.10 1.50 0.10Z" fill="#00bcd4"/></svg>
<svg class="b" style="left:984px;top:403px" width="40" height="15"><rect x="0.80" y="0.10" width="39.20" height="14.50" fill="#00bcd4"/></svg>
<svg class="b" style="left:984px;top:416px" width="40" height="15"><rect x="0.80" y="0.90" width="39.20" height="14.00" fill="#ffeb3b"/></svg>
<svg class="b" style="left:984px;top:430px" width="40" height="13"><rect x="0.80" y="0.15" width="39.20" height="12.80" fill="#4caf50"/></svg>
<svg class="b" style="left:984px;top:442px" width="40" height="4"><rect x="0.80" y="0.25" width="39.20" height="3.50" fill="#f57f17"/></svg>
<svg class="b" style="left:984px;top:445px" width="40" height="17"><rect x="0.80" y="0.00" width="39.20" height="16.60" fill="#363a45"/></svg>
<svg class="b" style="left:984px;top:479px" width="40" height="15"><rect x="0.80" y="0.90" width="39.20" height="13.60" fill="#2962ff"/></svg>
<svg class="b" style="left:984px;top:533px" width="40" height="14"><rect x="0.80" y="0.00" width="39.20" height="13.40" fill="#ffffff"/></svg>
<svg class="b" style="left:984px;top:553px" width="40" height="14"><rect x="0.80" y="0.50" width="39.20" height="13.30" fill="#ffffff"/></svg>
<span class="t" id="gb2" style="font-size:9.3px;line-height:15px;color:#012a31;-webkit-text-stroke:0.25px #012a31;left:948.65px;top:403px;transform:scaleX(0.8329);filter:url(#d3);">GBPUSD</span>
<span class="t" id="q1" style="font-size:9.3px;line-height:15px;color:#012a31;-webkit-text-stroke:0.25px #012a31;left:991.93px;top:403px;transform:scaleX(0.9481);filter:url(#d3);">1.32408</span>
<span class="t" id="q2" style="font-size:9.3px;line-height:15px;color:#2b2900;-webkit-text-stroke:0.25px #2b2900;left:991.93px;top:417px;transform:scaleX(0.9464);filter:url(#u2);">1.32400</span>
<span class="t" id="q3" style="font-size:9.3px;line-height:15px;color:#ffffff;-webkit-text-stroke:0.25px #ffffff;left:991.94px;top:430px;transform:scaleX(0.9481);filter:url(#d1);">1.32339</span>
<span class="t" id="q4" style="font-size:9.3px;line-height:15px;color:#ffffff;-webkit-text-stroke:0.42px #ffffff;left:992.09px;top:447px;transform:scaleX(0.9540);filter:url(#d2);">1.32027</span>
<span class="t" id="q5" style="font-size:9.3px;line-height:15px;color:#ffffff;-webkit-text-stroke:0.25px #ffffff;left:991.93px;top:480px;transform:scaleX(0.9498);filter:url(#d2);">1.31731</span>
<span class="t" id="q6" style="font-size:9.3px;line-height:15px;color:#2c2f38;-webkit-text-stroke:0.25px #2c2f38;left:991.93px;top:533px;transform:scaleX(0.9505);filter:url(#d2);">1.31262</span>
<span class="t" id="q7" style="font-size:9.3px;line-height:15px;color:#2c2f38;-webkit-text-stroke:0.25px #2c2f38;left:991.94px;top:554px;transform:scaleX(0.9483);filter:url(#u4);">1.31083</span>
<span class="t" id="h1" style="font-size:10.9px;line-height:17px;color:#e4e4e4;font-weight:700;-webkit-text-stroke:0.25px #e4e4e4;left:965.70px;top:420px;transform:scaleX(0.9382);filter:url(#u4);">1H</span>
<span class="t" id="h4b" style="font-size:10.9px;line-height:17px;color:#e4e4e4;font-weight:700;-webkit-text-stroke:0.25px #e4e4e4;left:962.98px;top:444px;transform:scaleX(1.1407);filter:url(#u1);">4H</span>
<span class="t" id="d1c" style="font-size:10.9px;line-height:17px;color:#e4e4e4;font-weight:700;-webkit-text-stroke:0.25px #e4e4e4;left:965.59px;top:541px;transform:scaleX(0.8840);filter:url(#d1);">D1</span>
<span class="t" id="d1d" style="font-size:10.9px;line-height:17px;color:#e4e4e4;font-weight:700;-webkit-text-stroke:0.25px #e4e4e4;left:965.59px;top:562px;transform:scaleX(0.8840);filter:url(#u1);">D1</span>
<div class="w">
<span class="t" id="tA" style="font-size:11.2px;line-height:18px;color:#f2f2f2;font-weight:500;-webkit-text-stroke:0.12px #f2f2f2;left:1.84px;top:4px;transform:scaleX(1.1076);filter:url(#u4);">ポンド／米ドル</span>
<span class="t" id="tB" style="font-size:11.5px;line-height:18px;color:#d8d8d8;font-weight:700;left:87.77px;top:4px;transform:scaleX(0.9821);filter:url(#u2);"> · </span>
<span class="t" id="tC" style="font-size:10.8px;line-height:17px;color:#f2f2f2;-webkit-text-stroke:0.35px #f2f2f2;left:97.09px;top:5px;transform:scaleX(1.0300);filter:url(#u1);">4</span>
<span class="t" id="tF" style="font-size:11.2px;line-height:18px;color:#f2f2f2;font-weight:500;-webkit-text-stroke:0.12px #f2f2f2;left:102.31px;top:4px;transform:scaleX(1.1394);filter:url(#u5);">時間</span>
<span class="t" id="tD" style="font-size:11.5px;line-height:18px;color:#d8d8d8;font-weight:700;left:127.57px;top:5px;transform:scaleX(0.9821);"> · </span>
<span class="t" id="tE" style="font-size:11.1px;line-height:18px;color:#f2f2f2;-webkit-text-stroke:0.3px #f2f2f2;left:137.13px;top:4px;transform:scaleX(0.9469);filter:url(#d3);">FXCM</span>
</div>
<div class="w">
<span class="t" id="bA" style="font-size:11.2px;line-height:18px;color:#f2f2f2;font-weight:500;-webkit-text-stroke:0.12px #f2f2f2;left:1.84px;top:351px;transform:scaleX(1.1076);filter:url(#u3);">ポンド／米ドル</span>
<span class="t" id="bB" style="font-size:11.5px;line-height:18px;color:#d8d8d8;font-weight:700;left:87.77px;top:351px;transform:scaleX(0.9821);filter:url(#u1);"> · </span>
<span class="t" id="bC" style="font-size:10.8px;line-height:17px;color:#f2f2f2;-webkit-text-stroke:0.35px #f2f2f2;left:97.69px;top:352px;transform:scaleX(0.6586);filter:url(#u1);">1</span>
<span class="t" id="bF" style="font-size:11.2px;line-height:18px;color:#f2f2f2;font-weight:500;-webkit-text-stroke:0.12px #f2f2f2;left:102.31px;top:351px;transform:scaleX(1.1394);filter:url(#u4);">時間</span>
<span class="t" id="bD" style="font-size:11.5px;line-height:18px;color:#d8d8d8;font-weight:700;left:127.57px;top:352px;transform:scaleX(0.9821);filter:url(#d1);"> · </span>
<span class="t" id="bE" style="font-size:11.1px;line-height:18px;color:#f2f2f2;-webkit-text-stroke:0.3px #f2f2f2;left:137.13px;top:351px;transform:scaleX(0.9469);filter:url(#d4);">FXCM</span>
</div>
<span class="t" id="s1" style="font-size:10.2px;line-height:16px;color:#f4f4f4;-webkit-text-stroke:0.3px #f4f4f4;left:2.03px;top:25px;transform:scaleX(0.8274);filter:url(#u3);">SMA</span>
<span class="t" id="s2" style="font-size:10.2px;line-height:16px;color:#6a6d78;left:1.77px;top:43px;transform:scaleX(0.8414);">SMA</span>
<span class="t" id="s3" style="font-size:10.2px;line-height:16px;color:#f4f4f4;-webkit-text-stroke:0.3px #f4f4f4;left:2.03px;top:372px;transform:scaleX(0.8274);filter:url(#u1);">SMA</span>
<span class="t" id="s4" style="font-size:10.2px;line-height:16px;color:#f4f4f4;-webkit-text-stroke:0.3px #f4f4f4;left:2.03px;top:390px;transform:scaleX(0.8274);">SMA</span>
<svg class="ic" style="left:2px;top:61px" width="23" height="16"><g transform="translate(0.30 0.40)"><rect x="0.5" y="0.5" width="20.4" height="14" rx="2.2" fill="#000" fill-opacity="0.82" stroke="#2a2a2a" stroke-width="1"/><path d="M7.6 9.0L10.8 6.0L14.0 9.0" fill="none" stroke="#d0d0d0" stroke-width="1.25"/></g></svg>
<svg class="ic" style="left:2px;top:408px" width="23" height="16"><g transform="translate(0.30 0.10)"><rect x="0.5" y="0.5" width="20.4" height="14" rx="2.2" fill="#000" fill-opacity="0.82" stroke="#2a2a2a" stroke-width="1"/><path d="M7.6 9.0L10.8 6.0L14.0 9.0" fill="none" stroke="#d0d0d0" stroke-width="1.25"/></g></svg>
<svg class="ic" style="left:25px;top:22px" width="17" height="17"><defs><radialGradient id="pg"><stop offset="0" stop-color="#1b0a45"/><stop offset="0.72" stop-color="#1b0a45"/><stop offset="1" stop-color="#1b0a45" stop-opacity="0"/></radialGradient><radialGradient id="gg"><stop offset="0" stop-color="#062813"/><stop offset="0.7" stop-color="#062813"/><stop offset="1" stop-color="#062813" stop-opacity="0"/></radialGradient></defs><g transform="translate(0.05 0.85)"><circle cx="8" cy="8" r="7.4" fill="url(#pg)"/><path d="M3.9 7.3A4.2 4.2 0 0 1 11.4 5.6" fill="none" stroke="#7a33ff" stroke-width="1.5"/><path d="M12.1 8.7A4.2 4.2 0 0 1 4.6 10.4" fill="none" stroke="#7a33ff" stroke-width="1.5"/><path d="M9.6 6.9L12.7 6.9L12.7 3.8Z" fill="#7a33ff"/><path d="M6.4 9.1L3.3 9.1L3.3 12.2Z" fill="#7a33ff"/></g></svg>
<svg class="ic" style="left:26px;top:42px" width="15" height="15"><g transform="translate(0.90 0.70)"><path d="M0.9 7C2.4 4.4 4.5 3.1 7 3.1S11.6 4.4 13.1 7C11.6 9.6 9.5 10.9 7 10.9S2.4 9.6 0.9 7Z" fill="none" stroke="#9c9c9c" stroke-width="1.15"/><circle cx="7" cy="7" r="1.9" fill="none" stroke="#9c9c9c" stroke-width="1.1"/><path d="M2.3 11.3L11.7 2.7" stroke="#9c9c9c" stroke-width="1.15"/></g></svg>
<svg class="ic" style="left:25px;top:370px" width="17" height="17"><g transform="translate(0.10 0.25)"><circle cx="8" cy="8" r="7.3" fill="url(#gg)"/><path d="M6.5 4.3Q5.3 4.3 5.2 5.4L5.0 6.5Q4.8 7.5 3.8 8.1Q4.8 8.7 5.0 9.7L5.2 10.8Q5.3 11.9 6.5 11.9" fill="none" stroke="#1eab5a" stroke-width="1.4" stroke-linejoin="round"/><path d="M9.5 4.3Q10.7 4.3 10.8 5.4L11.0 6.5Q11.2 7.5 12.2 8.1Q11.2 8.7 11.0 9.7L10.8 10.8Q10.7 11.9 9.5 11.9" fill="none" stroke="#1eab5a" stroke-width="1.4" stroke-linejoin="round"/></g></svg>
<svg class="ic" style="left:25px;top:388px" width="17" height="17"><g transform="translate(0.10 0.35)"><circle cx="8" cy="8" r="7.3" fill="url(#gg)"/><path d="M6.5 4.3Q5.3 4.3 5.2 5.4L5.0 6.5Q4.8 7.5 3.8 8.1Q4.8 8.7 5.0 9.7L5.2 10.8Q5.3 11.9 6.5 11.9" fill="none" stroke="#1eab5a" stroke-width="1.4" stroke-linejoin="round"/><path d="M9.5 4.3Q10.7 4.3 10.8 5.4L11.0 6.5Q11.2 7.5 12.2 8.1Q11.2 8.7 11.0 9.7L10.8 10.8Q10.7 11.9 9.5 11.9" fill="none" stroke="#1eab5a" stroke-width="1.4" stroke-linejoin="round"/></g></svg>
<svg class="ic" style="left:1001px;top:327px" width="15" height="15"><g transform="translate(0.40 0.95)"><path d="M1.9 7L4.45 2.4H9.55L12.1 7L9.55 11.6H4.45Z" fill="none" stroke="#9a9a9a" stroke-width="0.9"/><circle cx="7" cy="7" r="1.7" fill="none" stroke="#9a9a9a" stroke-width="0.9"/></g></svg>
<svg class="ic" style="left:5px;top:643px" width="25" height="13"><g transform="translate(0.10 0.35)"><path d="M0 0H9.1V11.7H4.6V4.4H0Z" fill="#dcdcdc"/><circle cx="12.85" cy="2.5" r="2.3" fill="#dcdcdc"/><path d="M18.1 0H23.2L18.4 11.7H13.1Z" fill="#dcdcdc"/></g></svg>
</body></html>
